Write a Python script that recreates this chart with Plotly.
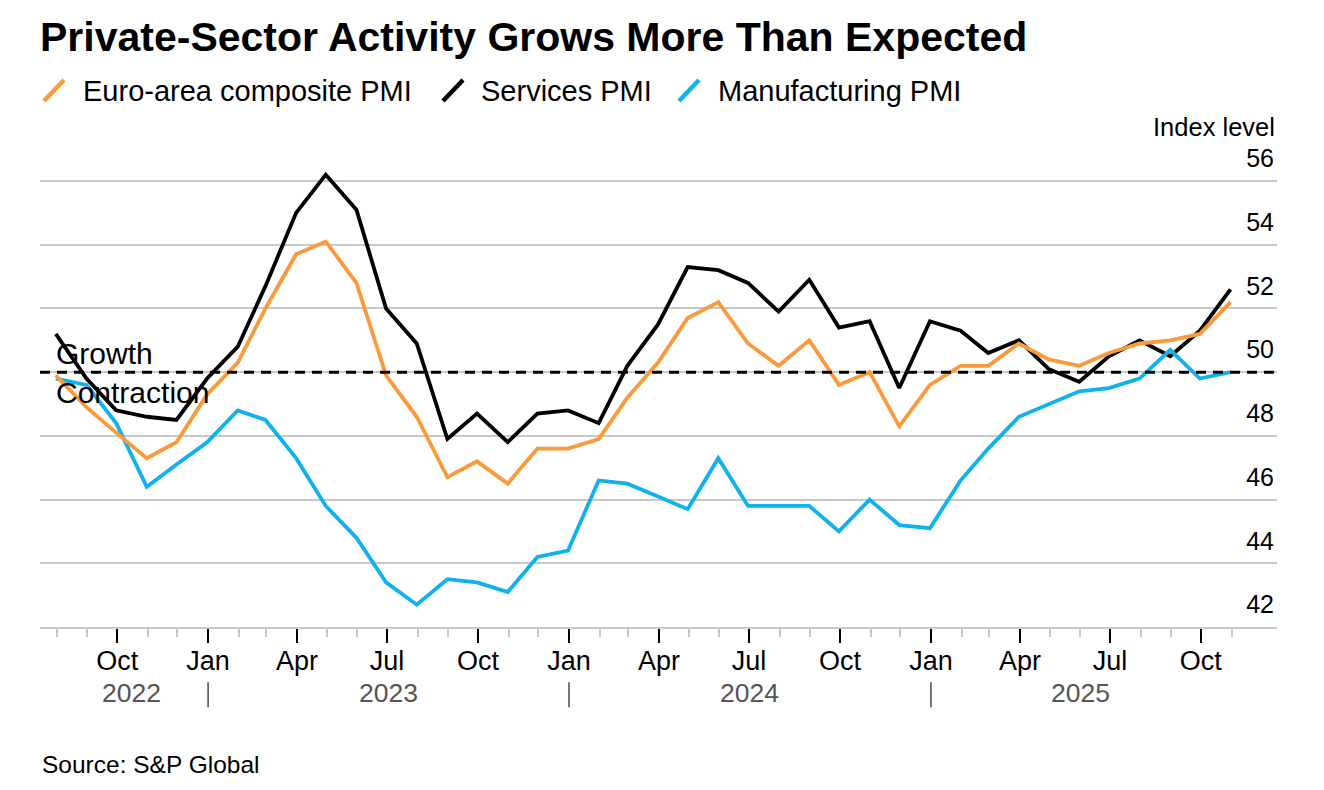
import pandas as pd
import plotly.graph_objects as go

# ---- data (monthly, Jul 2022 .. Oct 2025) ----
start_month = "2022-07"
composite = [49.9, 48.9, 48.1, 47.3, 47.8, 49.3,
             50.3, 52.0, 53.7, 54.1, 52.8, 49.9, 48.6, 46.7, 47.2, 46.5, 47.6, 47.6,
             47.9, 49.2, 50.3, 51.7, 52.2, 50.9, 50.2, 51.0, 49.6, 50.0, 48.3, 49.6,
             50.2, 50.2, 50.9, 50.4, 50.2, 50.6, 50.9, 51.0, 51.2, 52.2]
services = [51.2, 49.8, 48.8, 48.6, 48.5, 49.8,
            50.8, 52.7, 55.0, 56.2, 55.1, 52.0, 50.9, 47.9, 48.7, 47.8, 48.7, 48.8,
            48.4, 50.2, 51.5, 53.3, 53.2, 52.8, 51.9, 52.9, 51.4, 51.6, 49.5, 51.6,
            51.3, 50.6, 51.0, 50.1, 49.7, 50.5, 51.0, 50.5, 51.3, 52.6]
manufacturing = [49.8, 49.6, 48.4, 46.4, 47.1, 47.8,
                 48.8, 48.5, 47.3, 45.8, 44.8, 43.4, 42.7, 43.5, 43.4, 43.1, 44.2, 44.4,
                 46.6, 46.5, 46.1, 45.7, 47.3, 45.8, 45.8, 45.8, 45.0, 46.0, 45.2, 45.1,
                 46.6, 47.6, 48.6, 49.0, 49.4, 49.5, 49.8, 50.7, 49.8, 50.0]
series_names = ["Euro-area composite PMI", "Services PMI", "Manufacturing PMI"]
series_colors = ["#fb9a3a", "#000000", "#10b2ee"]
threshold = 50
y_ticks = [42, 44, 46, 48, 50, 52, 54, 56]
years = [2022, 2023, 2024, 2025]

# month-end dates
dates = pd.date_range(start_month + "-01", periods=len(composite), freq="MS") + pd.offsets.MonthEnd(0)

# ---- geometry (page pixels; page body has an 8px margin) ----
OFF = 8
W, H = 1324 - OFF, 790 - OFF
PL, PR, PT, PB = 40, 1277, 140, 626.7       # plot box in page pixels
L = PL - OFF
R = W - (PR - OFF)
T = PT - OFF
B = H - (PB - OFF)
plot_h = PB - PT
plot_w = PR - PL

def py(px):
    """page pixel y -> paper y"""
    return (PB - px) / plot_h

def pxx(px):
    """page pixel x -> paper x"""
    return (px - PL) / plot_w

fig = go.Figure()
order = [(1, services), (2, manufacturing), (0, composite)]
for idx, vals in order:
    fig.add_trace(go.Scatter(x=dates, y=vals, mode="lines", name=series_names[idx],
                             line=dict(color=series_colors[idx], width=3.8),
                             hoverinfo="skip", showlegend=False))

x_start = pd.Timestamp("2022-07-15")
x_end = pd.Timestamp("2025-12-17")

fig.update_layout(
    width=W, height=H,
    margin=dict(l=L, r=R, t=T, b=B, pad=0),
    paper_bgcolor="white", plot_bgcolor="white",
    font=dict(family="Liberation Sans, Arial, sans-serif", color="#000"),
    title=dict(text="<b>Private-Sector Activity Grows More Than Expected</b>",
               x=(40 - OFF) / W, xref="container", xanchor="left",
               y=1 - (37 - OFF) / H, yref="container", yanchor="middle",
               font=dict(size=41, color="#000")),
    showlegend=False,
)

fig.update_xaxes(
    type="date", range=[x_start, x_end],
    showgrid=False, zeroline=False,
    showline=True, linecolor="#c8c8c8", linewidth=2,
    ticks="outside", ticklen=14, tickwidth=2, tickcolor="#000",
    dtick="M3", tick0="2022-01-01", tickformat="%b",
    ticklabelstandoff=-5,
    tickfont=dict(size=27, color="#000"),
    minor=dict(dtick="M1", tick0="2022-01-01", ticks="outside", ticklen=8,
               tickwidth=1.5, tickcolor="#c8c8c8", showgrid=False),
)

fig.update_yaxes(
    range=[42, 42 + 14 * plot_h / (PB - 181)], side="right",
    tickvals=y_ticks, ticktext=[str(v) for v in y_ticks],
    ticklabelposition="inside top", ticklabelshift=-5,
    showgrid=True, gridcolor="#c8c8c8", gridwidth=1.6,
    zeroline=False, showline=False, ticks="",
    tickfont=dict(size=25, color="#000"),
)

# threshold dashed line
fig.add_shape(type="line", xref="paper", yref="y", x0=0, x1=1, y0=threshold, y1=threshold,
              line=dict(color="#000", width=3, dash="10px,7px"), layer="above")

anns = []
anns.append(dict(text="Growth", xref="paper", yref="paper", x=pxx(54), y=py(353),
                 xanchor="left", yanchor="middle", showarrow=False, font=dict(size=30)))
anns.append(dict(text="Contraction", xref="paper", yref="paper", x=pxx(54), y=py(392),
                 xanchor="left", yanchor="middle", showarrow=False, font=dict(size=30)))
anns.append(dict(text="Index level", xref="paper", yref="paper", x=1, y=py(127),
                 xanchor="right", yanchor="middle", showarrow=False, font=dict(size=25.5)))
anns.append(dict(text="Source: S&P Global", xref="paper", yref="paper", x=0, y=py(764),
                 xanchor="left", yanchor="middle", showarrow=False, font=dict(size=24.5)))

# year labels and separators
first, last = dates[0], dates[-1]
for yr in years:
    a = max(pd.Timestamp(f"{yr}-01-01"), first)
    b = min(pd.Timestamp(f"{yr + 1}-01-01"), last)
    mid = a + (b - a) / 2
    anns.append(dict(text=str(yr), xref="x", yref="paper", x=mid, y=py(693),
                     xanchor="center", yanchor="middle", showarrow=False,
                     font=dict(size=26.5, color="#555")))
    if pd.Timestamp(f"{yr}-01-01") > first:
        fig.add_shape(type="line", xref="x", yref="paper",
                      x0=pd.Timestamp(f"{yr}-01-01"), x1=pd.Timestamp(f"{yr}-01-01"),
                      y0=py(682), y1=py(707), line=dict(color="#555", width=1.6))

# custom legend (slash icons + labels)
legend_x = [44, 443, 679]
legend_text_x = [81, 479, 716]
for i, name in enumerate(series_names):
    x0 = legend_x[i]
    fig.add_shape(type="line", xref="paper", yref="paper",
                  x0=pxx(x0), x1=pxx(x0 + 20), y0=py(101), y1=py(80),
                  line=dict(color=series_colors[i], width=4.5))
    anns.append(dict(text=name, xref="paper", yref="paper", x=pxx(legend_text_x[i]), y=py(91),
                     xanchor="left", yanchor="middle", showarrow=False, font=dict(size=29)))

fig.update_layout(annotations=anns)
fig.write_html("out.html")
